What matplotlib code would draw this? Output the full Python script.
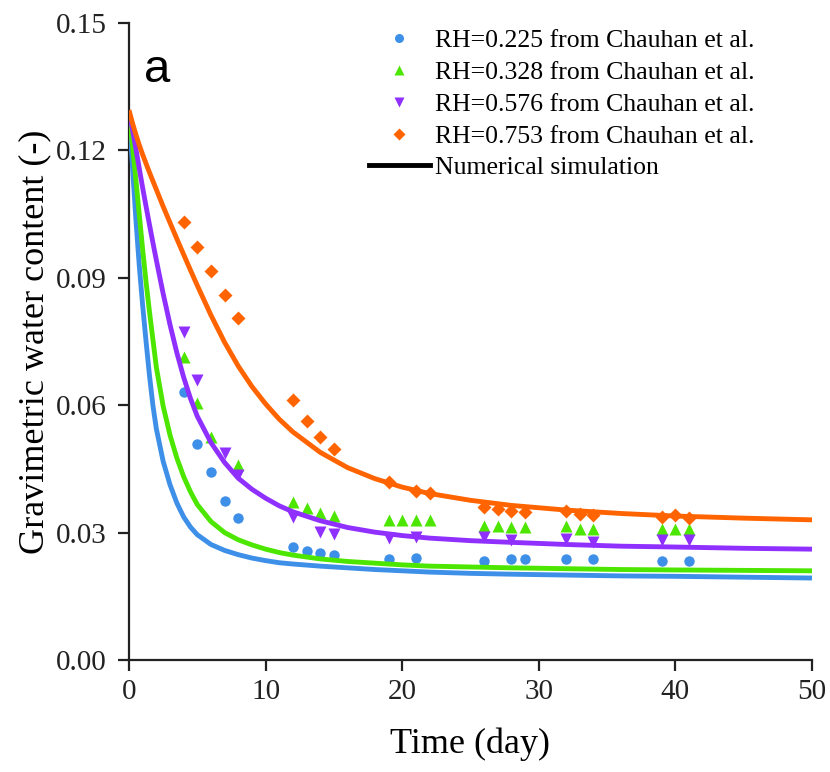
import matplotlib
matplotlib.use('Agg')
from matplotlib import pyplot as plt
from matplotlib.lines import Line2D

# Experimental data (Chauhan et al.)
t_225 = [4, 5, 6, 7, 8, 12, 13, 14, 15, 19, 21, 26, 28, 29, 32, 34, 39, 41]
w_225 = [0.0631, 0.0509, 0.0443, 0.0374, 0.0334, 0.0266, 0.0257, 0.0252, 0.0247,
         0.0238, 0.0240, 0.0233, 0.0238, 0.0238, 0.0238, 0.0238, 0.0233, 0.0233]

t_328 = [4, 5, 6, 8, 12, 13, 14, 15, 19, 20, 21, 22, 26, 27, 28, 29, 32, 33, 34, 39, 40, 41]
w_328 = [0.0713, 0.0605, 0.0525, 0.0459, 0.0372, 0.0358, 0.0346, 0.0339,
         0.0330, 0.0330, 0.0330, 0.0330, 0.0316, 0.0316, 0.0314, 0.0314,
         0.0316, 0.0308, 0.0308, 0.0308, 0.0308, 0.0308]

t_576 = [4, 5, 7, 8, 12, 14, 15, 19, 21, 26, 28, 32, 34, 39, 41]
w_576 = [0.0772, 0.0659, 0.0487, 0.0436, 0.0337, 0.0302, 0.0296, 0.0287,
         0.0290, 0.0290, 0.0283, 0.0285, 0.0278, 0.0283, 0.0283]

t_753 = [4, 5, 6, 7, 8, 12, 13, 14, 15, 19, 21, 22, 26, 27, 28, 29, 32, 33, 34, 39, 40, 41]
w_753 = [0.1031, 0.0973, 0.0917, 0.0860, 0.0805, 0.0612, 0.0563, 0.0525, 0.0497,
         0.0419, 0.0398, 0.0393, 0.0360, 0.0356, 0.0351, 0.0349, 0.0351, 0.0344,
         0.0341, 0.0337, 0.0341, 0.0334]

# Numerical simulation
t_sim = [0, 0.25, 0.5, 0.75, 1, 1.25, 1.5, 1.75, 2, 2.5, 3, 3.5, 4, 4.5, 5, 6, 7, 8,
         9, 10, 11, 12, 14, 16, 18, 20, 22, 25, 28, 32, 36, 40, 45, 50]
sim_225 = [0.129, 0.1165, 0.104, 0.093, 0.0835, 0.0750, 0.0670, 0.0600, 0.0545,
           0.0468, 0.0413, 0.0370, 0.0337, 0.0313, 0.0295, 0.0272, 0.0258, 0.0248,
           0.0240, 0.0234, 0.0229, 0.0226, 0.0221, 0.0217, 0.0213, 0.0210, 0.0207,
           0.0204, 0.0202, 0.0200, 0.0198, 0.0197, 0.0195, 0.0193]
sim_328 = [0.129, 0.1213, 0.1133, 0.1050, 0.0967, 0.0890, 0.0820, 0.0755, 0.0690,
           0.0598, 0.0530, 0.0476, 0.0432, 0.0396, 0.0366, 0.0326, 0.0300, 0.0283,
           0.0271, 0.0261, 0.0253, 0.0247, 0.0238, 0.0232, 0.0228, 0.0224, 0.0221,
           0.0219, 0.0217, 0.0215, 0.0213, 0.0212, 0.0211, 0.0210]
sim_576 = [0.129, 0.1250, 0.1205, 0.1158, 0.1112, 0.1068, 0.1025, 0.0983, 0.0942,
           0.0863, 0.0790, 0.0724, 0.0666, 0.0616, 0.0574, 0.0512, 0.0465, 0.0428,
           0.0402, 0.0381, 0.0363, 0.0349, 0.0328, 0.0312, 0.0301, 0.0293, 0.0287,
           0.0281, 0.0277, 0.0272, 0.0268, 0.0266, 0.0263, 0.0261]
sim_753 = [0.1295, 0.1265, 0.1238, 0.1213, 0.1190, 0.1169, 0.1148, 0.1128, 0.1108,
           0.1068, 0.1030, 0.0992, 0.0955, 0.0918, 0.0882, 0.0812, 0.0748, 0.0692,
           0.0644, 0.0603, 0.0567, 0.0537, 0.0489, 0.0453, 0.0427, 0.0407, 0.0392,
           0.0376, 0.0364, 0.0353, 0.0345, 0.0339, 0.0334, 0.0330]

labels = ['RH=0.225 from Chauhan et al.', 'RH=0.328 from Chauhan et al.',
          'RH=0.576 from Chauhan et al.', 'RH=0.753 from Chauhan et al.']
colors = ['#3d8fe8', '#4de600', '#9030ff', '#ff6400']

plt.rcParams['font.family'] = ['Liberation Serif', 'DejaVu Serif']

fig = plt.figure(figsize=(8.3, 7.72), dpi=100)
ax = fig.add_axes([0.1554, 0.1451, 0.8229, 0.8251])

# точки эксперимента
ax.plot(t_225, w_225, 'o', c=colors[0], ms=7.5, mec='none', zorder=2)
ax.plot(t_328, w_328, '^', c=colors[1], ms=8.5, mec='none', zorder=2)
ax.plot(t_576, w_576, 'v', c=colors[2], ms=8.5, mec='none', zorder=2)
ax.plot(t_753, w_753, 'D', c=colors[3], ms=6.8, mec='none', zorder=2)

# кривые моделирования
for sim, c in zip([sim_225, sim_328, sim_576, sim_753], colors):
    ax.plot(t_sim, sim, c=c, lw=3.5, zorder=3, solid_capstyle='butt', solid_joinstyle='round')

ax.set_xlim(0, 50)
ax.set_ylim(0, 0.15)
ax.set_xticks([0, 10, 20, 30, 40, 50])
ax.set_yticks([0.00, 0.03, 0.06, 0.09, 0.12, 0.15])
ax.set_yticklabels(['0.00', '0.03', '0.06', '0.09', '0.12', '0.15'])
ax.spines['top'].set_visible(False)
ax.spines['right'].set_visible(False)
ax.spines['left'].set_linewidth(1.6)
ax.spines['bottom'].set_linewidth(1.6)
ax.spines['left'].set_color('#222222')
ax.spines['bottom'].set_color('#222222')
ax.tick_params(axis='both', which='major', labelsize=21, length=8, width=1.6,
               color='#222222', labelcolor='#222222')
ax.tick_params(axis='y', pad=8)
ax.tick_params(axis='x', pad=6)

ax.set_xlabel('Time (day)', fontsize=26, labelpad=16)
ax.set_ylabel('Gravimetric water content (-)', fontsize=26, labelpad=3)

ax.text(0.022, 0.907, 'a', transform=ax.transAxes, fontsize=34, family='Liberation Sans')

handles = [Line2D([], [], ls='none', marker=m, c=c, mec='none', ms=s)
           for m, c, s in zip(['o', '^', 'v', 'D'], colors, [6.5, 7.5, 7.5, 6])]
handles.append(Line2D([], [], c='black', lw=3.5))
ax.legend(handles, labels + ['Numerical simulation'], loc='upper left',
          bbox_to_anchor=(0.332, 1.01), frameon=False, fontsize=18.5,
          handlelength=2.4, handletextpad=0.2, labelspacing=0.34, borderpad=0)

fig.savefig('out.png', dpi=100)
